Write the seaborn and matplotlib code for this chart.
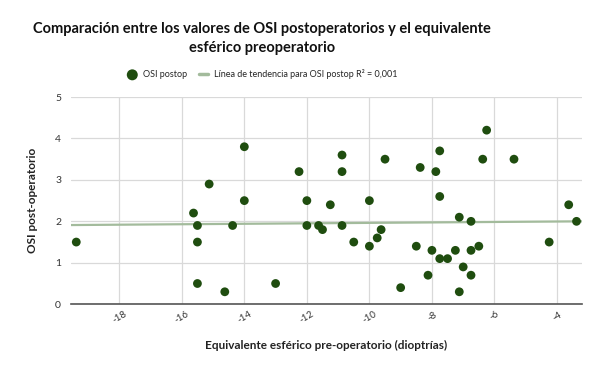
import numpy as np
import pandas as pd
import seaborn as sns
import matplotlib.pyplot as plt

# Datos
equivalente_esferico = [
    -19.375, -15.625, -15.125, -15.5, -15.5, -14.375, -15.5, -14.625,
    -14.0, -14.0, -13.0, -12.25, -12.0, -12.0, -11.625, -11.5, -11.25,
    -10.875, -10.875, -10.875, -10.5, -10.0, -10.0, -9.75, -9.625, -9.5,
    -9.0, -8.5, -8.375, -8.125, -8.0, -7.875, -7.75, -7.75, -7.75, -7.5,
    -7.25, -7.125, -7.125, -7.0, -6.75, -6.75, -6.75, -6.5, -6.375, -6.25,
    -5.375, -4.25, -3.625, -3.375,
]
osi_postop = [
    1.5, 2.2, 2.9, 1.9, 1.5, 1.9, 0.5, 0.3,
    3.8, 2.5, 0.5, 3.2, 2.5, 1.9, 1.9, 1.8, 2.4,
    3.6, 3.2, 1.9, 1.5, 2.5, 1.4, 1.6, 1.8, 3.5,
    0.4, 1.4, 3.3, 0.7, 1.3, 3.2, 3.7, 2.6, 1.1, 1.1,
    1.3, 2.1, 0.3, 0.9, 2.0, 1.3, 0.7, 1.4, 3.5, 4.2,
    3.5, 1.5, 2.4, 2.0,
]
# Línea de tendencia tal como aparece en el gráfico (R² = 0,001)
tendencia_pendiente = 0.0055
tendencia_intercepto = 2.018
x_ticks = [-18, -16, -14, -12, -10, -8, -6, -4]
y_ticks = [0, 1, 2, 3, 4, 5]

df = pd.DataFrame({"ee": equivalente_esferico, "osi": osi_postop})

sns.set_style("white")
plt.rcParams["font.family"] = ["Lato", "DejaVu Sans"]

fig = plt.figure(figsize=(6, 3.71), dpi=100)
ax = fig.add_axes([0.118, 0.18, 0.852, 0.5585])

ax.set_xlim(-19.55, -3.2)
ax.set_ylim(0, 5)

tendencia = ax.axline((0, tendencia_intercepto), slope=tendencia_pendiente,
                      color="#a3bb9c", lw=1.6, zorder=2,
                      label="Línea de tendencia para OSI postop R² = 0,001")

sns.scatterplot(data=df, x="ee", y="osi", ax=ax, color="#1f4d0f", s=40,
                edgecolor="none", zorder=3, label="OSI postop")

ax.set_xticks(x_ticks)
ax.set_xticklabels([f"-{abs(t)}" for t in x_ticks], rotation=30,
                   ha="center", fontsize=7, color="#333333")
ax.set_yticks(y_ticks)
ax.set_yticklabels([str(t) for t in y_ticks], fontsize=7.5, color="#333333")
ax.tick_params(axis="x", length=0, pad=4)
ax.tick_params(axis="y", length=0, pad=7)
ax.grid(True, color="#d9d9d9", lw=0.9)
ax.set_axisbelow(True)
for s in ["top", "right", "left"]:
    ax.spines[s].set_visible(False)
ax.spines["bottom"].set_color("#555555")
ax.spines["bottom"].set_linewidth(1.2)

ax.set_xlabel("Equivalente esférico pre-operatorio (dioptrías)", fontsize=8.5,
              fontweight="bold", color="#222222", labelpad=11)
ax.set_ylabel("OSI post-operatorio", fontsize=8.5, fontweight="bold",
              color="#222222", labelpad=12)

# Leyenda con el orden del original
handles, labels = ax.get_legend_handles_labels()
order = [labels.index("OSI postop"),
         labels.index("Línea de tendencia para OSI postop R² = 0,001")]
if ax.get_legend():
    ax.get_legend().remove()
leg = fig.legend([handles[i] for i in order], [labels[i] for i in order],
                 loc="center", bbox_to_anchor=(0.438, 0.8), ncol=2, frameon=False,
                 fontsize=6.5, handlelength=0.9, handletextpad=0.7,
                 columnspacing=1.4, markerscale=1.25)
leg.get_lines()[0].set_linewidth(2.5) if leg.get_lines() else None

fig.text(0.437, 0.895,
         "Comparación entre los valores de OSI postoperatorios y el equivalente\n"
         "esférico preoperatorio",
         ha="center", va="center", fontsize=10.5, fontweight="bold",
         color="#111111", linespacing=1.45)

fig.savefig("out.png", dpi=100)
